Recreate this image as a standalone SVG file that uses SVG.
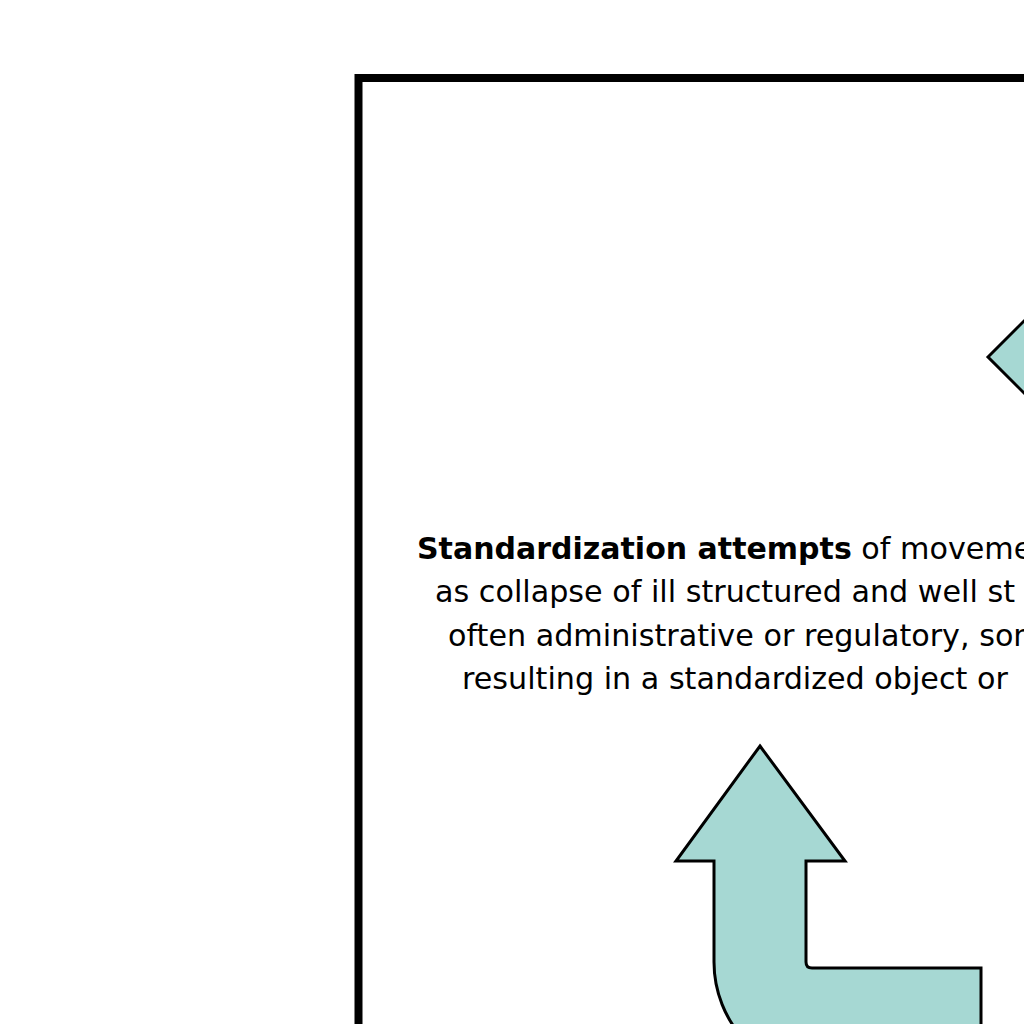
<svg xmlns="http://www.w3.org/2000/svg" width="1024" height="1024" viewBox="0 0 1024 1024">
<style>
.shape{fill:#a6d8d3;stroke:#000;stroke-width:3;stroke-linejoin:miter}
.txt{font-family:"DejaVu Sans",Verdana,sans-serif;font-size:30.2px;fill:#000}
.b{font-weight:bold;font-size:30px}
</style>
<rect width="1024" height="1024" fill="#fff"/>
<g id="frame">
<rect x="358.5" y="78" width="800" height="1100" fill="none" stroke="#000" stroke-width="8"/>
</g>
<g id="diamond">
<polygon class="shape" points="988,357 1060,285 1132,357 1060,429"/>
</g>
<g id="label">
<text class="txt" x="417" y="559"><tspan class="b">Standardization attempts</tspan> of moveme</text>
<text class="txt" x="435" y="602">as collapse of ill structured and well st</text>
<text class="txt" x="448" y="646">often administrative or regulatory, som</text>
<text class="txt" x="462" y="689">resulting in a standardized object or</text>
</g>
<g id="connectors">
<path class="shape" d="M760,746 L845,861 L806,861 L806,962 Q806,968 812,968 L981,968 L981,1100 L829,1100 L829,1077 A115,115 0 0 1 714,962 L714,861 L676,861 Z"/>
</g>
</svg>
